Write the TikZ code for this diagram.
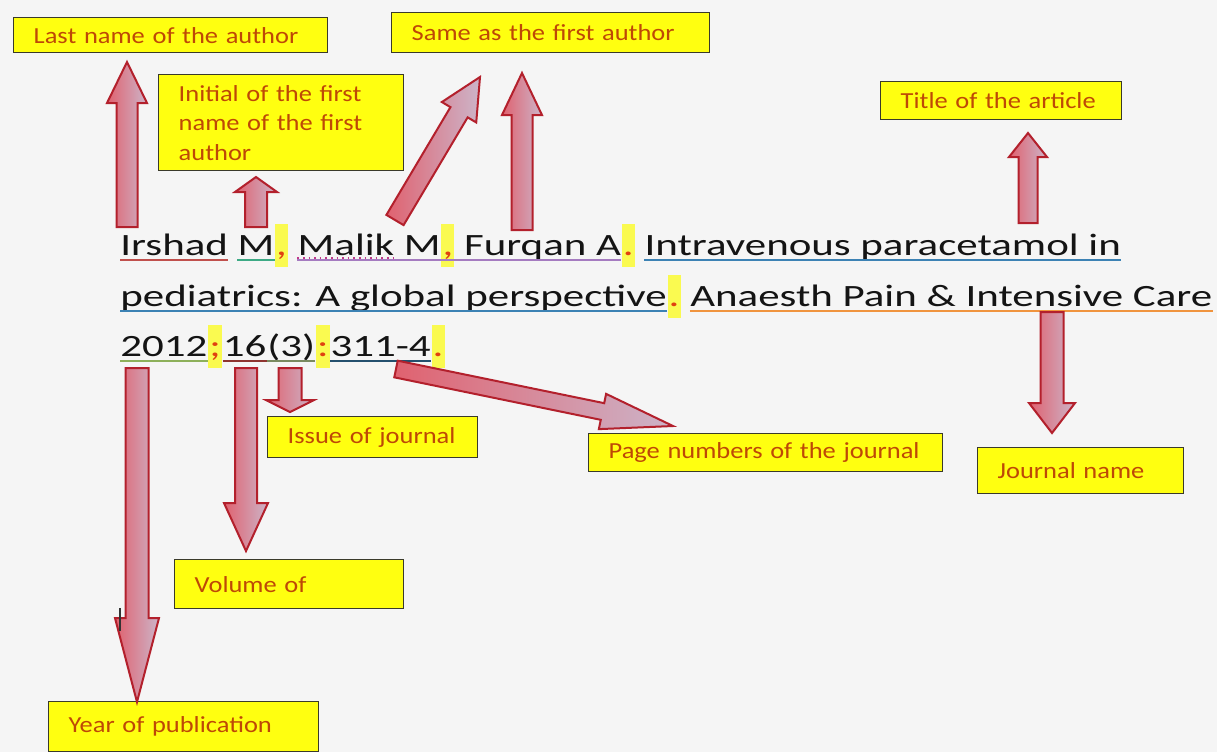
\documentclass[tikz,border=0pt]{standalone}
\usepackage{fontspec}
\usetikzlibrary{calc}
\newfontfamily\citefont[FakeStretch=1.385]{Carlito}
\newfontfamily\labfont[FakeStretch=1.15]{Carlito}
\newcommand\citesz{\citefont\fontsize{15.5}{18}\selectfont}
\newcommand\labsz{\labfont\fontsize{11.5}{14.75}\selectfont}
\definecolor{bg}{HTML}{F5F5F5}
\definecolor{boxy}{HTML}{FFFF10}
\definecolor{boxline}{HTML}{3A3A2A}
\definecolor{lbltext}{HTML}{BE4806}
\definecolor{punct}{HTML}{E04010}
\definecolor{hly}{HTML}{FAFA50}
\definecolor{citeblack}{HTML}{141414}
\definecolor{ulred}{HTML}{C0504D}
\definecolor{ulteal}{HTML}{3DAA85}
\definecolor{ulpurple}{HTML}{A57BC0}
\definecolor{uldot}{HTML}{C03A8A}
\definecolor{ulblue}{HTML}{3C82B4}
\definecolor{ulorange}{HTML}{F0943E}
\definecolor{ulgreen}{HTML}{8DB05A}
\definecolor{ulbrown}{HTML}{8E3430}
\definecolor{ulolive}{HTML}{7A8A60}
\definecolor{uldblue}{HTML}{24506E}
\definecolor{arrred}{HTML}{E4505C}
\definecolor{arrgray}{HTML}{C8C6DC}
\definecolor{arrline}{HTML}{B3202C}
\newlength\spw
\setlength\spw{4.4pt}
\newcommand\undl[3]{\draw[ulst,#1] ([yshift=-2.5pt]#2.base west) -- ([yshift=-2.5pt]#3.base east);}
\newcommand\blockarr[5]{%
  \coordinate (hb) at ($(#2)!#5!(#1)$);
  \path[barrow] ($(#1)!#3!90:(#2)$) -- ($(hb)!#3!90:(#2)$) -- ($(hb)!#4!90:(#2)$) -- (#2)
     -- ($(hb)!#4!-90:(#2)$) -- ($(hb)!#3!-90:(#2)$) -- ($(#1)!#3!-90:(#2)$) -- cycle;}
\begin{document}
\begin{tikzpicture}[x=0.5pt,y=-0.5pt,
  cw/.style={anchor=base west, inner sep=0pt, font=\citesz, text=citeblack},
  hl/.style={cw, fill=hly, text=punct, text height=15.5pt, text depth=6pt, inner xsep=0.6pt},
  ulst/.style={line width=0.9pt},
  lbl/.style={draw=boxline, fill=boxy, line width=0.7pt, font=\labsz, text=lbltext,
    anchor=north west, inner xsep=10pt, inner ysep=0pt, align=left},
  barrow/.style={draw=arrline, line width=1pt, line join=miter,
    left color=arrred!85!arrgray, middle color=arrgray, right color=arrgray!85!arrred}]
\fill[bg] (0,0) rectangle (1217,752);
\useasboundingbox (0,0) rectangle (1217,752);

% label boxes
\node[lbl, text width=137pt, minimum height=17.5pt] (lastbox) at (13,17) {Last name of the author};
\node[lbl, text width=139pt, minimum height=20pt] (samebox) at (391,12) {Same as the first author};
\node[lbl, text width=102.5pt, minimum height=48pt] (initbox) at (158,74) {Initial of the first\\name of the first\\author};
\node[lbl, text width=100.5pt, minimum height=19pt] (titlebox) at (880,81) {Title of the article};
\node[lbl, text width=85pt, minimum height=20.5pt] (issuebox) at (267,416) {Issue of journal};
\node[lbl, text width=157pt, minimum height=19pt] (pagebox) at (588,433) {Page numbers of the journal};
\node[lbl, text width=83pt, minimum height=23pt] (journalbox) at (977,447) {Journal name};
\node[lbl, text width=94.5pt, minimum height=24.5pt] (volbox) at (174,559) {Volume of};
\node[lbl, text width=115pt, minimum height=25pt] (yearbox) at (48,701) {Year of publication};

% citation line 1
\node[cw] (irshad) at (120,255) {Irshad};
\node[cw] (m1) at ([xshift=\spw]irshad.base east) {M};
\node[hl] (c1) at (m1.base east) {,};
\node[cw] (malik) at ([xshift=\spw]c1.base east) {Malik};
\node[cw] (m2) at ([xshift=\spw]malik.base east) {M};
\node[hl] (c2) at (m2.base east) {,};
\node[cw] (furqan) at ([xshift=\spw]c2.base east) {Furqan A};
\node[hl] (d1) at (furqan.base east) {.};
\node[cw] (intra) at ([xshift=\spw]d1.base east) {Intravenous paracetamol in};
% line 2
\node[cw] (pedi) at (120,306) {pediatrics: A global perspective};
\node[hl] (d2) at (pedi.base east) {.};
\node[cw] (jour) at ([xshift=\spw]d2.base east) {Anaesth Pain \& Intensive Care};
% line 3
\node[cw] (yr) at (120,356) {2012};
\node[hl] (sc) at (yr.base east) {;};
\node[cw] (vol) at (sc.base east) {16};
\node[cw] (iss) at (vol.base east) {(3)};
\node[hl] (cl) at (iss.base east) {:};
\node[cw] (pg) at (cl.base east) {311-4};
\node[hl] (d3) at (pg.base east) {.};

% underlines
\undl{ulred}{irshad}{irshad}
\undl{ulteal}{m1}{m1}
\undl{ulpurple}{malik}{furqan}
\draw[uldot, dotted, line width=0.8pt] ([yshift=-1.6pt]malik.base west) -- ([yshift=-1.6pt]malik.base east);
\undl{ulblue}{intra}{intra}
\undl{ulblue}{pedi}{pedi}
\undl{ulorange}{jour}{jour}
\undl{ulgreen}{yr}{yr}
\undl{ulbrown}{vol}{vol}
\undl{ulolive}{iss}{iss}
\undl{uldblue}{pg}{pg}

% arrow end points
\coordinate (t1) at (127,227);  \coordinate (h1) at (127,62);
\coordinate (t2) at (256,227);  \coordinate (h2) at (256,177);
\coordinate (t3) at (395,220);  \coordinate (h3) at (480,77);
\coordinate (t4) at (522,230);  \coordinate (h4) at (522,73);
\coordinate (t5) at (1028,223); \coordinate (h5) at (1028,133);
\coordinate (t6) at (1052,312); \coordinate (h6) at (1052,433);
\coordinate (t7) at (137,368);  \coordinate (h7) at (137,702);
\coordinate (t8) at (246,368);  \coordinate (h8) at (246,551);
\coordinate (t9) at (290,368);  \coordinate (h9) at (290,412);
\coordinate (t10) at (396,369); \coordinate (h10) at (673,426);

\blockarr{t1}{h1}{5.25pt}{10pt}{20.5pt}
\blockarr{t2}{h2}{5.5pt}{10.5pt}{7.5pt}
\blockarr{t3}{h3}{5pt}{10pt}{20.5pt}
\blockarr{t4}{h4}{5.25pt}{10pt}{21pt}
\blockarr{t5}{h5}{4.75pt}{9.5pt}{12pt}
\blockarr{t6}{h6}{5.75pt}{11.5pt}{15pt}
\blockarr{t7}{h7}{5.75pt}{11pt}{42pt}
\blockarr{t8}{h8}{5.5pt}{11pt}{24pt}
\blockarr{t9}{h9}{5.75pt}{12pt}{6pt}
\blockarr{t10}{h10}{4.25pt}{9pt}{36pt}

% text cursor mark
\coordinate (cur1) at (120,608); \coordinate (cur2) at (120,631);
\draw[black!80, line width=0.9pt] (cur1) -- (cur2);
\end{tikzpicture}
\end{document}
